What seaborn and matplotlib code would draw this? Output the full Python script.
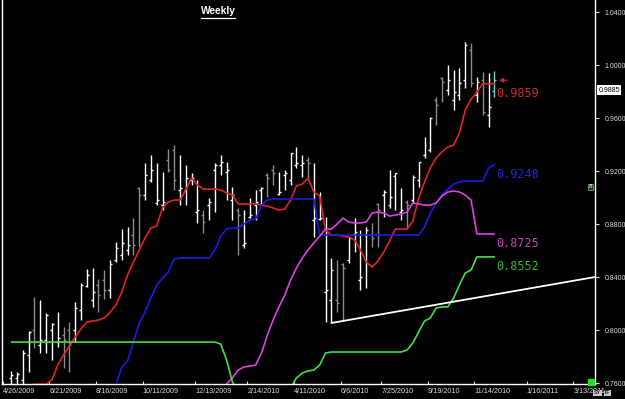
import numpy as np
import pandas as pd
import matplotlib
matplotlib.use("Agg")
import matplotlib.pyplot as plt
import seaborn as sns

nan = np.nan

# weekly OHLC bars (first bar week of 6 May 2009)
bar_dates = pd.date_range("2009-05-06", periods=84, freq="7D")

opens = [0.7638, 0.7638, 0.7623, 0.7811, 0.8000, 0.7887, 0.7925, 0.8000, 0.7909, 0.7962,
         0.8000, 0.8000, 0.8150, 0.8332, 0.8226, 0.8340, 0.8377, 0.8302, 0.8528, 0.8566,
         0.8604, 0.8717, 0.9072, 0.9019, 0.9132, 0.8959, 0.8943, 0.9283, 0.9358, 0.9057,
         0.9057, 0.9132, 0.8891, 0.8868, 0.8943, 0.9208, 0.9245, 0.9192, 0.8981, 0.8906,
         0.8642, 0.8853, 0.8943, 0.9057, 0.9170, 0.9208, 0.9026, 0.9170, 0.9132, 0.9245,
         0.9245, 0.9283, 0.8830, 0.8838, 0.8287, 0.8226, 0.8226, 0.8498, 0.8528, 0.8724,
         0.8377, 0.8717, 0.8717, 0.8951, 0.9019, 0.8943, 0.9162, 0.8891, 0.8966, 0.8981,
         0.9132, 0.9321, 0.9358, 0.9736, 0.9902, 0.9811, 0.9736, 0.9774, 0.9887, 1.0113,
         0.9774, 0.9887, 0.9623, 0.9805]
highs = [0.7691, 0.7683, 0.7849, 0.7992, 0.8249, 0.8226, 0.8128, 0.8053, 0.8136, 0.8023,
         0.8060, 0.8211, 0.8355, 0.8460, 0.8468, 0.8385, 0.8453, 0.8528, 0.8664, 0.8762,
         0.8777, 0.8845, 0.9079, 0.9260, 0.9321, 0.9260, 0.9192, 0.9366, 0.9396, 0.9321,
         0.9245, 0.9185, 0.9132, 0.8906, 0.8996, 0.9260, 0.9321, 0.9268, 0.9079, 0.8921,
         0.8906, 0.8996, 0.9057, 0.9079, 0.9185, 0.9245, 0.9192, 0.9208, 0.9336, 0.9381,
         0.9321, 0.9306, 0.9260, 0.9042, 0.8853, 0.8543, 0.8528, 0.8506, 0.8702, 0.8845,
         0.8755, 0.8777, 0.8808, 0.8959, 0.9057, 0.9208, 0.9185, 0.9072, 0.8981, 0.9170,
         0.9268, 0.9457, 0.9608, 0.9758, 0.9909, 1.0000, 0.9962, 0.9977, 1.0174, 1.0166,
         0.9909, 0.9947, 0.9940, 0.9955]
lows = [0.7585, 0.7585, 0.7585, 0.7683, 0.7864, 0.7826, 0.7826, 0.7774, 0.7872, 0.7713,
        0.7683, 0.7909, 0.8075, 0.8325, 0.8174, 0.8136, 0.8234, 0.8242, 0.8513, 0.8528,
        0.8566, 0.8566, 0.8626, 0.8981, 0.9117, 0.8943, 0.8906, 0.9192, 0.9057, 0.8943,
        0.8943, 0.9094, 0.8808, 0.8732, 0.8830, 0.8891, 0.9170, 0.8981, 0.8830, 0.8566,
        0.8619, 0.8845, 0.8830, 0.8943, 0.9004, 0.9094, 0.9019, 0.9057, 0.9094, 0.9223,
        0.9155, 0.9132, 0.8702, 0.8830, 0.8060, 0.8060, 0.8136, 0.8075, 0.8506, 0.8589,
        0.8302, 0.8317, 0.8626, 0.8626, 0.8853, 0.8921, 0.8906, 0.8830, 0.8770, 0.8959,
        0.9079, 0.9298, 0.9343, 0.9547, 0.9721, 0.9774, 0.9660, 0.9736, 0.9826, 0.9834,
        0.9721, 0.9623, 0.9532, 0.9758]
closes = [0.7660, 0.7668, 0.7826, 0.7985, 0.7909, 0.7925, 0.8113, 0.8045, 0.7940, 0.7925,
          0.7887, 0.8166, 0.8340, 0.8415, 0.8287, 0.8264, 0.8302, 0.8498, 0.8619, 0.8657,
          0.8642, 0.8642, 0.9019, 0.9170, 0.9208, 0.8981, 0.8966, 0.9208, 0.9132, 0.9072,
          0.9147, 0.9147, 0.8906, 0.8815, 0.8966, 0.9245, 0.9268, 0.9208, 0.9019, 0.8868,
          0.8657, 0.8868, 0.8966, 0.9072, 0.9147, 0.9185, 0.9042, 0.9185, 0.9336, 0.9260,
          0.9260, 0.9260, 0.8845, 0.8845, 0.8302, 0.8453, 0.8204, 0.8468, 0.8694, 0.8740,
          0.8400, 0.8755, 0.8694, 0.8906, 0.9042, 0.9004, 0.9185, 0.8906, 0.8943, 0.9155,
          0.9268, 0.9396, 0.9600, 0.9698, 0.9872, 0.9887, 0.9796, 0.9864, 1.0151, 0.9864,
          0.9872, 0.9645, 0.9683, 0.9885]

# indicator lines, one value per bar
red_line = [0.7509, 0.7532, 0.7562, 0.7577, 0.7592, 0.7592, 0.7592, 0.7623, 0.7736, 0.7811,
            0.7879, 0.7947, 0.8008, 0.8060, 0.8068, 0.8075, 0.8091, 0.8136, 0.8189, 0.8287,
            0.8415, 0.8513, 0.8604, 0.8694, 0.8770, 0.8785, 0.8921, 0.8966, 0.8981, 0.8981,
            0.9057, 0.9147, 0.9094, 0.9064, 0.9064, 0.9064, 0.9057, 0.9034, 0.9019, 0.8951,
            0.8951, 0.8951, 0.8951, 0.8943, 0.8936, 0.8921, 0.8906, 0.8913, 0.8981, 0.9087,
            0.9102, 0.9147, 0.9042, 0.9011, 0.8755, 0.8717, 0.8717, 0.8709, 0.8702, 0.8679,
            0.8604, 0.8513, 0.8475, 0.8521, 0.8589, 0.8672, 0.8762, 0.8762, 0.8762, 0.8823,
            0.8996, 0.9117, 0.9223, 0.9298, 0.9343, 0.9381, 0.9396, 0.9487, 0.9660, 0.9743,
            0.9796, 0.9859, 0.9859, 0.9859]
blue_line = [nan, nan, nan, nan, nan, nan, nan, nan, nan, nan,
             nan, nan, nan, nan, nan, nan, nan, 0.7540, 0.7585, 0.7721,
             0.7766, 0.7909, 0.8053, 0.8136, 0.8242, 0.8340, 0.8392, 0.8438, 0.8536, 0.8543,
             0.8543, 0.8543, 0.8543, 0.8543, 0.8543, 0.8604, 0.8709, 0.8762, 0.8770, 0.8770,
             0.8800, 0.8830, 0.8838, 0.8943, 0.8981, 0.8989, 0.8989, 0.8989, 0.8989, 0.8989,
             0.8989, 0.8989, 0.8989, 0.8717, 0.8717, 0.8717, 0.8717, 0.8717, 0.8717, 0.8717,
             0.8717, 0.8717, 0.8717, 0.8717, 0.8717, 0.8717, 0.8717, 0.8717, 0.8717, 0.8717,
             0.8717, 0.8777, 0.8883, 0.8959, 0.9019, 0.9064, 0.9102, 0.9117, 0.9125, 0.9125,
             0.9125, 0.9125, 0.9223, 0.9248]
magenta_line = [nan, nan, nan, nan, nan, nan, nan, nan, nan, nan,
                nan, nan, nan, nan, nan, nan, nan, nan, nan, nan,
                nan, nan, nan, nan, nan, nan, nan, nan, nan, nan,
                nan, nan, nan, nan, nan, nan, 0.7547, 0.7592, 0.7638, 0.7698,
                0.7721, 0.7728, 0.7736, 0.7826, 0.7962, 0.8075, 0.8174, 0.8264, 0.8377, 0.8468,
                0.8543, 0.8604, 0.8657, 0.8709, 0.8762, 0.8762, 0.8800, 0.8845, 0.8815, 0.8808,
                0.8808, 0.8815, 0.8883, 0.8891, 0.8883, 0.8860, 0.8868, 0.8876, 0.8891, 0.8959,
                0.8951, 0.8943, 0.8943, 0.8959, 0.9011, 0.9042, 0.9049, 0.9042, 0.9019, 0.8981,
                0.8725, 0.8725, 0.8725, 0.8725]
green_line = [0.7909, 0.7909, 0.7909, 0.7909, 0.7909, 0.7909, 0.7909, 0.7909, 0.7909, 0.7909,
              0.7909, 0.7909, 0.7909, 0.7909, 0.7909, 0.7909, 0.7909, 0.7909, 0.7909, 0.7909,
              0.7909, 0.7909, 0.7909, 0.7909, 0.7909, 0.7909, 0.7909, 0.7909, 0.7909, 0.7909,
              0.7909, 0.7909, 0.7909, 0.7909, 0.7909, 0.7909, 0.7894, 0.7774, 0.7608, 0.7540,
              0.7540, 0.7540, 0.7540, 0.7540, 0.7540, 0.7540, 0.7540, 0.7540, 0.7562, 0.7638,
              0.7675, 0.7691, 0.7698, 0.7736, 0.7826, 0.7834, 0.7834, 0.7834, 0.7834, 0.7834,
              0.7834, 0.7834, 0.7834, 0.7834, 0.7834, 0.7834, 0.7834, 0.7834, 0.7849, 0.7902,
              0.7985, 0.8068, 0.8091, 0.8166, 0.8174, 0.8174, 0.8242, 0.8340, 0.8430, 0.8453,
              0.8552, 0.8552, 0.8552, 0.8552]
line_labels = ["0.9859", "0.9248", "0.8725", "0.8552"]

# support line drawn under the June 2010 low
trend_dates = ["2010-05-26", "2011-04-08"]
trend_prices = [0.8053, 0.8400]

current_price = 0.9885
current_label = "0.9885"

tick_dates = ["2009-04-26", "2009-06-21", "2009-08-16", "2009-10-11", "2009-12-13",
              "2010-02-14", "2010-04-11", "2010-06-06", "2010-07-25", "2010-09-19",
              "2010-11-14", "2011-01-16", "2011-03-13"]
tick_labels = ["4/26/2009", "6/21/2009", "8/16/2009", "10/11/2009", "12/13/2009",
               "2/14/2010", "4/11/2010", "6/6/2010", "7/25/2010", "9/19/2010",
               "11/14/2010", "1/16/2011", "3/13/2011"]
y_ticks = [0.76, 0.80, 0.84, 0.88, 0.92, 0.96, 1.00, 1.04]

sns.set_theme(style="dark", rc={"axes.facecolor": "black", "figure.facecolor": "black",
                                "axes.grid": False})
plt.rcParams["font.family"] = ["Liberation Sans", "DejaVu Sans"]

fig = plt.figure(figsize=(6.25, 3.99), dpi=100)
ax = fig.add_axes([2 / 625, 15 / 399, 593 / 625, 384 / 399])
ax.set_facecolor("black")

# OHLC bars: white when the week closed up, grey when down, last bar highlighted
o = np.array(opens)
c = np.array(closes)
bar_col = np.where(c >= o, "#ffffff", "#8c8c8c").astype(object)
bar_col[-1] = "#7fd0d0"
tick = pd.Timedelta(days=2.4)
ax.vlines(bar_dates, lows, highs, colors=list(bar_col), linewidth=1.0, zorder=2)
ax.hlines(opens, bar_dates - tick, bar_dates, colors=list(bar_col), linewidth=1.0, zorder=2)
ax.hlines(closes, bar_dates, bar_dates + tick, colors=list(bar_col), linewidth=1.0, zorder=2)

lines = pd.DataFrame({"date": bar_dates, "red": red_line, "blue": blue_line,
                      "magenta": magenta_line, "green": green_line})
line_cols = {"red": "#e02424", "blue": "#1c1ce0", "magenta": "#e040e0", "green": "#40e040"}
label_cols = {"red": "#cc2a2a", "blue": "#2626c8", "magenta": "#c040c0", "green": "#36b836"}

for name, txt in zip(["red", "blue", "magenta", "green"], line_labels):
    d = lines[["date", name]].dropna()
    sns.lineplot(data=d, x="date", y=name, ax=ax, color=line_cols[name],
                 linewidth=1.2, estimator=None, zorder=3)
    ax.annotate(txt, xy=(d["date"].iloc[-1], d[name].iloc[-1]), xytext=(1.5, -2.5),
                textcoords="offset points", color=label_cols[name], fontsize=8.5,
                family="DejaVu Sans Mono", ha="left", va="top", zorder=5)

sns.lineplot(x=pd.to_datetime(trend_dates), y=trend_prices, ax=ax, color="white",
             linewidth=1.3, estimator=None, zorder=4)

# arrow pointing at the last close
ax.annotate("", xy=(bar_dates[-1] + pd.Timedelta(days=2), current_price), xytext=(10, 0),
            textcoords="offset points",
            arrowprops=dict(arrowstyle="-|>", color="#d42020", lw=0.9, mutation_scale=6))

ax.set_xlim(pd.Timestamp("2009-04-25"), pd.Timestamp("2011-04-08"))
ax.set_ylim(0.75925, 1.0491)
ax.set_xlabel("")
ax.set_ylabel("")

ax.yaxis.tick_right()
ax.set_yticks(y_ticks)
ax.set_yticklabels([f"{v:.4f}" for v in y_ticks])
ax.tick_params(axis="y", colors="#dcdcdc", labelsize=5, length=3, width=0.8,
               direction="out", pad=4, right=True, left=False)

ax.set_xticks(pd.to_datetime(tick_dates))
ax.set_xticklabels(tick_labels, ha="left")
ax.tick_params(axis="x", colors="#dcdcdc", labelsize=5.2, length=2, width=0.8,
               direction="in", pad=3, bottom=True)

for side in ["left", "right", "bottom"]:
    ax.spines[side].set_color("white")
    ax.spines[side].set_linewidth(1.0)
    ax.spines[side].set_visible(True)
ax.spines["top"].set_visible(False)

# current price box on the price scale
ax.annotate(current_label, xy=(1.0, current_price), xycoords=("axes fraction", "data"),
            xytext=(2.5, -7), textcoords="offset points", ha="left", va="center",
            fontsize=5, color="black", annotation_clip=False,
            bbox=dict(facecolor="white", edgecolor="none", pad=0.9))

title = fig.text(218 / 625, 1 - 14.5 / 399, "Weekly", color="white", fontsize=7.3,
                 fontweight="bold", ha="center", va="baseline")

# small terminal widgets
fig.patches.append(plt.Rectangle((588 / 625, 14 / 399), 6 / 625, 6 / 399,
                                 transform=fig.transFigure, color="#22e022", zorder=5))
fig.text(590.5 / 625, 1 - 187 / 399, "8", fontsize=4.5, color="white", ha="center",
         va="center", bbox=dict(facecolor="#1e3a1e", edgecolor="#6a9a6a", pad=0.6, lw=0.6))
fig.text(597.5 / 625, 1 - 393 / 399, "SY", fontsize=3.8, fontweight="bold", color="#202020",
         ha="center", va="center", zorder=6,
         bbox=dict(facecolor="#c8c8c8", edgecolor="none", pad=0.4))
fig.text(607.5 / 625, 1 - 393 / 399, "TF", fontsize=3.8, fontweight="bold", color="#202020",
         ha="center", va="center", zorder=6,
         bbox=dict(facecolor="#c8c8c8", edgecolor="none", pad=0.4))

# underline the title
fig.canvas.draw()
bb = title.get_window_extent()
fig.add_artist(plt.Line2D([bb.x0, bb.x1], [bb.y0 - 1.5, bb.y0 - 1.5], color="white",
                          linewidth=0.9, transform=None))

fig.savefig("out.png", dpi=100, facecolor="black")
